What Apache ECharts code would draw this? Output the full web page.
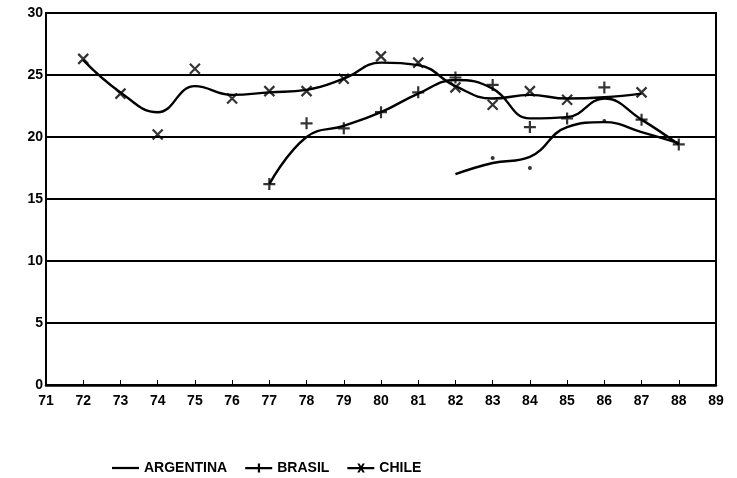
<!DOCTYPE html>
<html>
<head>
<meta charset="utf-8">
<script src="https://cdn.jsdelivr.net/npm/echarts@6/dist/echarts.min.js"></script>
<style>
html,body{margin:0;padding:0;background:#fff;}
#chart{width:737px;height:478px;}
</style>
</head>
<body>
<div id="chart"></div>
<script>
// ---- data ----
const years = ['71','72','73','74','75','76','77','78','79','80','81','82','83','84','85','86','87','88','89'];
const yTicks = [0, 5, 10, 15, 20, 25, 30];

// plotted data points (markers)
const argentinaPoints = [null,null,null,null,null,null,null,null,null,null,null,null,18.3,17.5,null,21.3,null,null,null];
const brasilPoints    = [null,null,null,null,null,null,16.2,21.1,20.7,22.0,23.6,24.8,24.2,20.8,21.5,24.0,21.4,19.4,null];
const chilePoints     = [null,26.3,23.5,20.2,25.5,23.1,23.7,23.7,24.7,26.5,26.0,24.0,22.6,23.7,23.0,null,23.6,null,null];

// fitted (smoothed) curves as drawn
const argentinaCurve = [null,null,null,null,null,null,null,null,null,null,null,17.0,17.9,18.4,20.8,21.2,20.4,19.5,null];
const brasilCurve    = [null,null,null,null,null,null,16.2,20.0,20.9,22.0,23.5,24.6,23.9,21.5,21.6,23.1,21.4,19.4,null];
const chileCurve     = [null,26.2,23.6,22.0,24.1,23.4,23.6,23.8,24.7,26.0,25.8,24.1,23.1,23.4,23.1,23.2,23.5,null,null];

const names = ['ARGENTINA', 'BRASIL', 'CHILE'];

// ---- styles ----
const FONT = '"Liberation Sans", Arial, sans-serif';
const INK = '#000';
const xSym = 'path://M0,0L10,10M10,0L0,10';
const plusSym = 'path://M5,0L5,10M0,5L10,5';

const chart = echarts.init(document.getElementById('chart'), null, {renderer: 'canvas'});

function curve(name, data, width) {
  return {
    name: name, type: 'line', data: data, smooth: 0.45,
    showSymbol: false, symbol: 'none', connectNulls: false,
    lineStyle: {color: INK, width: width},
    itemStyle: {color: INK},
    z: 3, silent: true
  };
}
function marks(name, data, sym, size, isDot) {
  return {
    name: name, type: 'scatter', data: data, symbol: sym, symbolSize: size,
    itemStyle: isDot ? {color: INK} : {color: 'transparent', borderColor: INK, borderWidth: 2.2},
    z: 4, silent: true
  };
}

chart.setOption({
  animation: false,
  backgroundColor: '#fff',
  grid: {left: 46, right: 21, top: 13, bottom: 93, show: true, borderColor: INK, borderWidth: 2, backgroundColor: 'transparent'},
  xAxis: {
    type: 'category', data: years, boundaryGap: false,
    axisLine: {show: true, lineStyle: {color: INK, width: 2.5}},
    axisTick: {show: true, inside: true, length: 5, lineStyle: {color: INK, width: 1}},
    axisLabel: {color: INK, fontFamily: FONT, fontWeight: 'bold', fontSize: 14, margin: 9, interval: 0},
    splitLine: {show: false}
  },
  yAxis: {
    type: 'value', min: yTicks[0], max: yTicks[yTicks.length - 1], interval: 5,
    axisLine: {show: true, lineStyle: {color: INK, width: 2}},
    axisTick: {show: false},
    axisLabel: {color: INK, fontFamily: FONT, fontWeight: 'bold', fontSize: 14, margin: 3},
    splitLine: {show: true, lineStyle: {color: INK, width: 2}}
  },
  legend: {
    left: 107, top: 456, itemWidth: 27, itemHeight: 9, itemGap: 18,
    selectedMode: false,
    itemStyle: {color: INK, borderWidth: 0},
    textStyle: {color: INK, fontFamily: FONT, fontWeight: 'bold', fontSize: 14},
    data: [
      {name: names[0], icon: 'path://M0,4L30,4L30,6.5L0,6.5Z'},
      {name: names[1], icon: 'path://M0,4L30,4L30,6.5L0,6.5Z M14,0L16.5,0L16.5,10L14,10Z'},
      {name: names[2], icon: 'path://M0,4L30,4L30,6.5L0,6.5Z M11,0L13.5,0L19.5,10L17,10Z M17,0L19.5,0L13.5,10L11,10Z'}
    ]
  },
  series: [
    curve(names[0], argentinaCurve, 2.4),
    curve(names[1], brasilCurve, 2.4),
    curve(names[2], chileCurve, 2.4),
    marks(names[0], argentinaPoints, 'circle', 4, true),
    marks(names[1], brasilPoints, plusSym, 12, false),
    marks(names[2], chilePoints, xSym, 10, false)
  ]
});
</script>
</body>
</html>
